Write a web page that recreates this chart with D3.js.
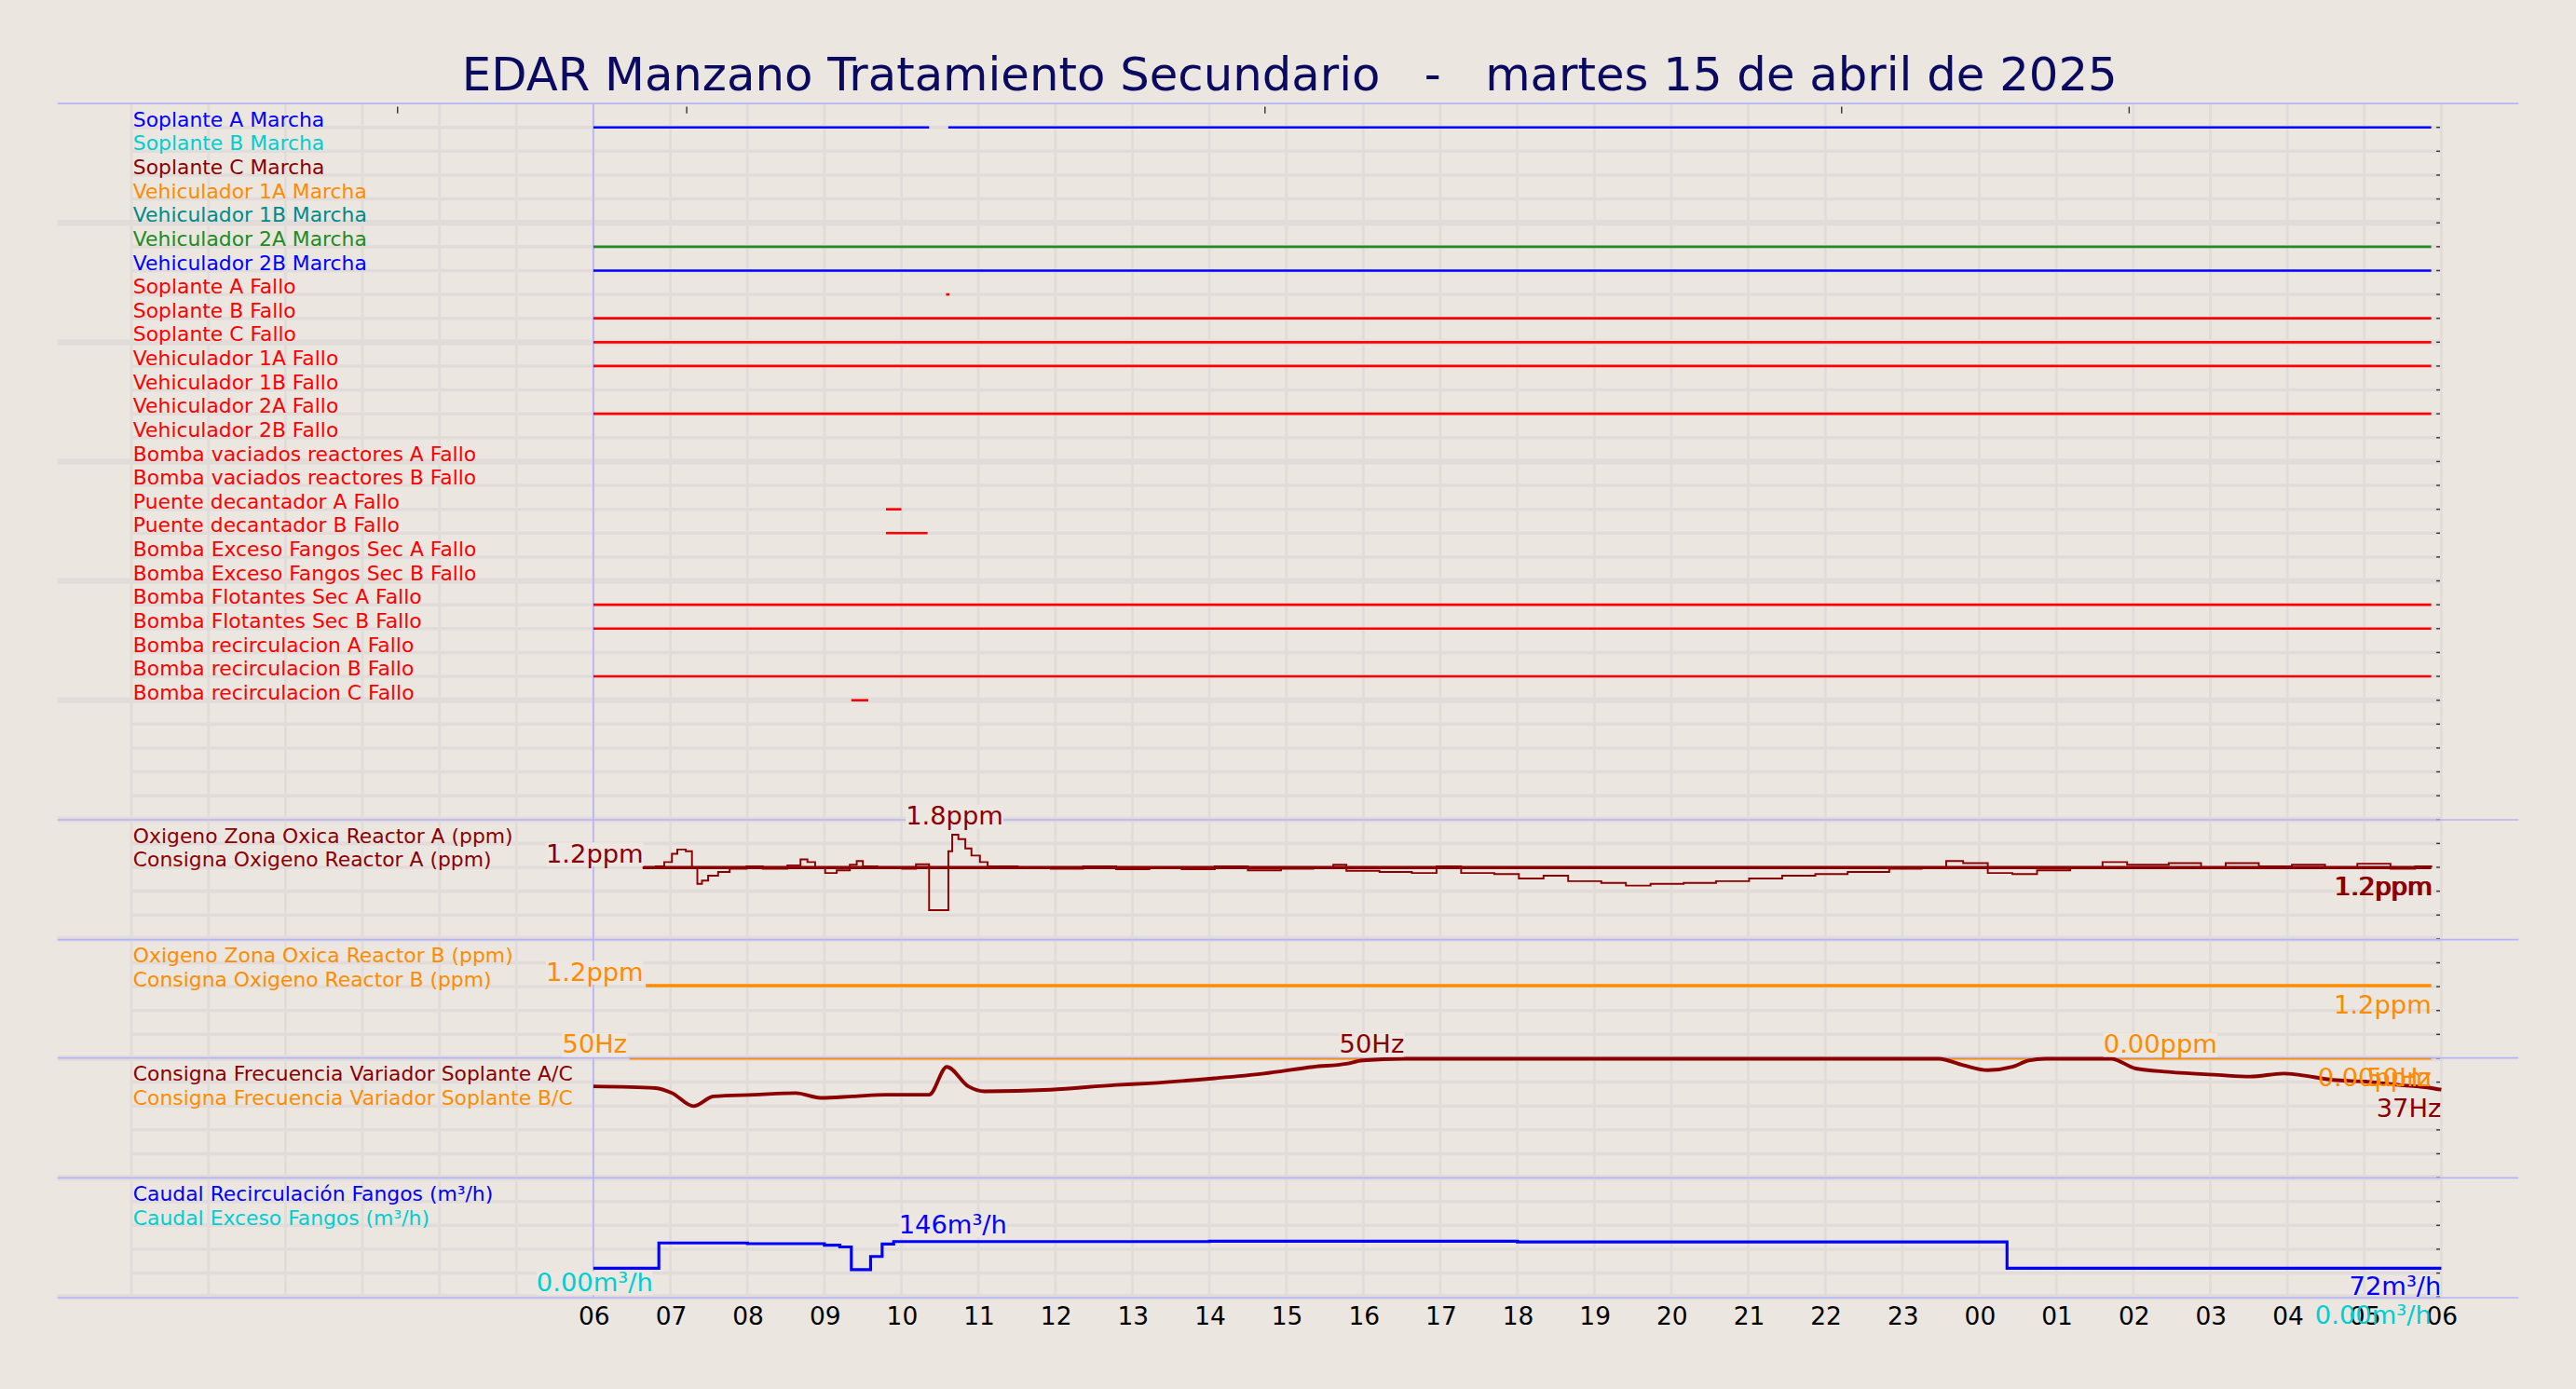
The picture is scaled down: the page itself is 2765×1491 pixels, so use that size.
<!DOCTYPE html>
<html><head><meta charset="utf-8">
<script src="https://cdn.jsdelivr.net/npm/d3@7"></script>
<style>body{margin:0;background:#ebe6e0}svg{display:block}text{font-family:"DejaVu Sans",sans-serif}</style>
</head><body><svg id="c" width="2765" height="1491"></svg>
<script>
// ---------- DATA ----------
const title = "EDAR Manzano Tratamiento Secundario   -   martes 15 de abril de 2025";
const hourLabels = ["06","07","08","09","10","11","12","13","14","15","16","17","18","19","20","21","22","23","00","01","02","03","04","05","06"];
const digitalNames = ["Soplante A Marcha","Soplante B Marcha","Soplante C Marcha","Vehiculador 1A Marcha","Vehiculador 1B Marcha","Vehiculador 2A Marcha","Vehiculador 2B Marcha","Soplante A Fallo","Soplante B Fallo","Soplante C Fallo","Vehiculador 1A Fallo","Vehiculador 1B Fallo","Vehiculador 2A Fallo","Vehiculador 2B Fallo","Bomba vaciados reactores A Fallo","Bomba vaciados reactores B Fallo","Puente decantador A Fallo","Puente decantador B Fallo","Bomba Exceso Fangos Sec A Fallo","Bomba Exceso Fangos Sec B Fallo","Bomba Flotantes Sec A Fallo","Bomba Flotantes Sec B Fallo","Bomba recirculacion A Fallo","Bomba recirculacion B Fallo","Bomba recirculacion C Fallo"];
const digitalColors = ["#0000ff","#00ced1","#8b0000","#ff8c00","#008b8b","#228b22","#0000ff","#ff0000","#ff0000","#ff0000","#ff0000","#ff0000","#ff0000","#ff0000","#ff0000","#ff0000","#ff0000","#ff0000","#ff0000","#ff0000","#ff0000","#ff0000","#ff0000","#ff0000","#ff0000"];
// "on" intervals in hours after 06:00
const digitalOn = [
  [[0,4.36],[4.61,23.87]], [], [], [], [], [[0,23.87]], [[0,23.87]],
  [[4.58,4.62]], [[0,23.87]], [[0,23.87]], [[0,23.87]], [], [[0,23.87]], [],
  [], [], [[3.8,4.0]], [[3.8,4.34]], [], [], [[0,23.87]], [[0,23.87]], [], [[0,23.87]], [[3.35,3.57]]
];
const oxA_t = [0.64,0.81,0.92,1.02,1.09,1.20,1.28,1.35,1.41,1.49,1.62,1.77,1.99,2.20,2.52,2.69,2.78,2.88,3.01,3.16,3.33,3.42,3.50,3.69,4.01,4.19,4.29,4.36,4.57,4.61,4.66,4.74,4.83,4.91,5.02,5.12,5.51,5.94,6.36,6.79,7.22,7.64,8.07,8.50,8.93,9.35,9.61,9.78,10.21,10.63,10.95,11.27,11.70,12.02,12.34,12.66,13.09,13.41,13.73,14.16,14.58,15.01,15.44,15.87,16.29,16.83,17.25,17.57,17.79,18.11,18.43,18.75,19.18,19.60,19.92,20.46,20.88,21.20,21.63,22.06,22.49,22.91,23.34,23.66,23.87];
const oxA_v = [1.2,1.22,1.3,1.45,1.53,1.5,1.2,0.9,0.96,1.05,1.12,1.18,1.22,1.18,1.24,1.35,1.3,1.2,1.1,1.15,1.25,1.32,1.22,1.2,1.18,1.26,1.26,0.42,0.42,1.5,1.8,1.72,1.55,1.42,1.3,1.22,1.2,1.18,1.22,1.17,1.2,1.17,1.22,1.15,1.18,1.2,1.25,1.14,1.12,1.1,1.22,1.1,1.08,1.0,1.05,0.95,0.92,0.87,0.9,0.92,0.95,1.0,1.05,1.08,1.12,1.18,1.2,1.32,1.28,1.1,1.08,1.15,1.2,1.3,1.25,1.28,1.2,1.28,1.22,1.25,1.2,1.27,1.18,1.22,1.2];
const oxA_sp = [[0.64,1.2],[23.87,1.2]];
const oxB_sp = [[0.68,1.2],[23.87,1.2]];
const freqAC_t = [0,0.81,1.02,1.30,1.56,2.09,2.63,2.95,3.37,3.80,4.36,4.59,4.87,5.08,5.94,6.79,7.22,8.07,8.71,9.35,9.78,9.99,10.53,17.47,17.79,18.11,18.43,18.64,18.86,19.71,20.03,20.46,21.10,21.52,21.95,22.16,22.59,23.02,23.45,23.87,24.0];
const freqAC_v = [38.4,37.7,35.6,30.1,34.2,34.9,35.6,33.6,34.2,34.9,34.9,46.6,38.4,36.3,37.0,39.0,39.7,41.8,43.8,46.6,47.9,49.3,50,50,47.3,45.2,46.6,49.3,50,50,45.9,44.5,43.2,42.5,43.8,43.2,41.1,40.4,39.0,37.7,37.0];
const freqBC = [[0.47,50],[23.87,50]];
const caudal_t = [0,0.85,2.0,3.0,3.2,3.35,3.6,3.75,3.9,8,12,16,18.36,24];
const caudal_v = [72,143,141,137,132,68,105,140,147,148,146,146,72,72];

// ---------- LAYOUT (in reference px, scaled) ----------
const S = 2765/1568;
const svg = d3.select("#c");
svg.append("rect").attr("width",2765).attr("height",1491).attr("fill","#ebe6e0");
const g = svg.append("g").attr("transform",`scale(${S})`);
const X0=80, X1=1486, rowH=14.53;
const x = d3.scaleLinear().domain([-6,24]).range([X0,X1]);
const panels = [63,499,572,644,717,790];
const gridC="#e1dcda";
const LF = 12.4, VF = 15.5;

for(let y=63+rowH, k=1; y<790; y+=rowH, k++){
  const thick = (k%5===0);
  g.append("line").attr("x1",thick?35:X0).attr("x2",X1).attr("y1",y).attr("y2",y)
    .attr("stroke",gridC).attr("stroke-width",thick?3.5:2);
  g.append("line").attr("x1",X1-3).attr("x2",X1).attr("y1",y).attr("y2",y).attr("stroke","#333").attr("stroke-width",0.8);
}
d3.range(-6,25).forEach(h=>{
  g.append("line").attr("x1",x(h)).attr("x2",x(h)).attr("y1",63).attr("y2",790).attr("stroke",gridC).attr("stroke-width",1.6);
});
panels.forEach(y=>g.append("line").attr("x1",35).attr("x2",1533).attr("y1",y).attr("y2",y).attr("stroke","#b4b4f8").attr("stroke-width",0.9));
g.append("line").attr("x1",x(0)).attr("x2",x(0)).attr("y1",63).attr("y2",790).attr("stroke","#b4b4f8").attr("stroke-width",0.9);
[242,418,770,1121,1296].forEach(px=>g.append("line").attr("x1",px).attr("x2",px).attr("y1",65).attr("y2",69).attr("stroke","#333").attr("stroke-width",0.8));

g.append("text").attr("x",785).attr("y",55).attr("text-anchor","middle").attr("font-size",28.2).attr("fill","#0a0a60").attr("xml:space","preserve").text(title);

digitalNames.forEach((n,i)=>{
  const yl = 63 + rowH*(i+1);
  g.append("text").attr("x",81).attr("y",yl-0.5).attr("font-size",LF).attr("fill",digitalColors[i]).text(n);
  digitalOn[i].forEach(([a,b])=>{
    g.append("line").attr("x1",x(a)).attr("x2",Math.max(x(b),x(a)+2)).attr("y1",yl).attr("y2",yl)
      .attr("stroke",digitalColors[i]).attr("stroke-width",1.5);
  });
});

function label(txt,px,py,color,anchor,bg){
  const t = g.append("text").attr("x",px).attr("y",py).attr("font-size",VF).attr("fill",color).attr("text-anchor",anchor||"middle").text(txt);
  if(bg!==false){
    const b = t.node().getBBox();
    g.insert("rect",()=>t.node()).attr("x",b.x).attr("y",b.y+2).attr("width",b.width).attr("height",b.height-3).attr("fill","#ece7e1");
  }
  return t;
}
function panelLabels(top,a,ca,b,cb){
  g.append("text").attr("x",81).attr("y",top+14).attr("font-size",LF).attr("fill",ca).text(a);
  g.append("text").attr("x",81).attr("y",top+28.5).attr("font-size",LF).attr("fill",cb).text(b);
}

// panel 2
const yO2 = d3.scaleLinear().domain([0,2]).range([568,501.5]);
panelLabels(499,"Oxigeno Zona Oxica Reactor A (ppm)","#8b0000","Consigna Oxigeno Reactor A (ppm)","#8b0000");
g.append("path").datum(oxA_t.map((t,i)=>[t,oxA_v[i]]))
  .attr("d",d3.line().x(d=>x(d[0])).y(d=>yO2(d[1])).curve(d3.curveStepAfter))
  .attr("fill","none").attr("stroke","#8b0000").attr("stroke-width",1.1);
g.append("path").datum(oxA_sp).attr("d",d3.line().x(d=>x(d[0])).y(d=>yO2(d[1])))
  .attr("stroke","#8b0000").attr("stroke-width",2);
label("1.2ppm",362,525,"#8b0000");
label("1.8ppm",581,502,"#8b0000");
label("1.2ppm",1480,545,"#8b0000","end",false);
label("1.2ppm",1481,545,"#8b0000","end",false);

// panel 3
const yO2b = d3.scaleLinear().domain([0,2]).range([644,573]);
panelLabels(572,"Oxigeno Zona Oxica Reactor B (ppm)","#ff8c00","Consigna Oxigeno Reactor B (ppm)","#ff8c00");
g.append("path").datum(oxB_sp).attr("d",d3.line().x(d=>x(d[0])).y(d=>yO2b(d[1]+0.04)))
  .attr("stroke","#ff8c00").attr("stroke-width",2);
label("1.2ppm",362,597,"#ff8c00");
label("1.2ppm",1480,617,"#ff8c00","end",false);

// panel 4
const yF = d3.scaleLinear().domain([0,50]).range([717,644.5]);
panelLabels(644,"Consigna Frecuencia Variador Soplante A/C","#8b0000","Consigna Frecuencia Variador Soplante B/C","#ff8c00");
g.append("path").datum(freqBC).attr("d",d3.line().x(d=>x(d[0])).y(d=>yF(d[1])))
  .attr("stroke","#ff8c00").attr("stroke-width",1);
g.append("path").datum(freqAC_t.map((t,i)=>[t,freqAC_v[i]]))
  .attr("d",d3.line().x(d=>x(d[0])).y(d=>yF(d[1])).curve(d3.curveMonotoneX))
  .attr("fill","none").attr("stroke","#8b0000").attr("stroke-width",2.2);
label("50Hz",362,641,"#ff8c00");
label("50Hz",835,641,"#8b0000");
label("0.00ppm",1315,641,"#ff8c00");
label("0.00ppm",1480,661,"#ff8c00","end",false);
label("50Hz",1480,661,"#ff8c00","end",false);
label("37Hz",1486,680,"#8b0000","end",false);

// panel 5
const yQ = d3.scaleLinear().domain([0,146]).range([787.6,756]);
panelLabels(717,"Caudal Recirculación Fangos (m³/h)","#0000ff","Caudal Exceso Fangos (m³/h)","#00ced1");
g.append("path").datum(caudal_t.map((t,i)=>[t,caudal_v[i]]))
  .attr("d",d3.line().x(d=>x(d[0])).y(d=>yQ(d[1])).curve(d3.curveStepAfter))
  .attr("fill","none").attr("stroke","#0000ff").attr("stroke-width",1.8);
label("146m³/h",580,751,"#0000ff");
label("0.00m³/h",362,786,"#00ced1");
label("72m³/h",1486,788,"#0000ff","end",false);

const ax = g.append("g").attr("transform","translate(0,792)").call(
  d3.axisBottom(x).tickValues(d3.range(0,25)).tickFormat((d,i)=>hourLabels[i]).tickSize(0).tickPadding(4));
ax.select(".domain").remove();
ax.selectAll("text").attr("font-size",15).attr("fill","#000").attr("font-family","DejaVu Sans");
label("0.00m³/h",1480,806,"#00ced1","end",false);
</script></body></html>
